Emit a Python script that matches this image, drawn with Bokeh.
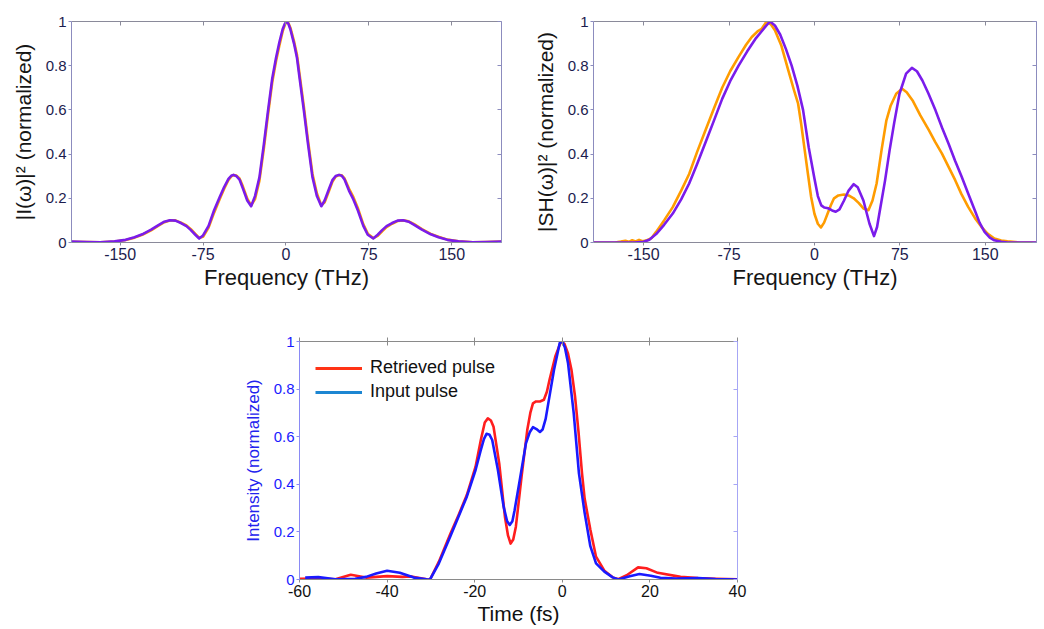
from bokeh.plotting import figure
from bokeh.models import (LinearAxis, FixedTicker, Range1d, Legend, LegendItem, Spacer,
                          CustomLabelingPolicy)
from bokeh.layouts import column, row
from bokeh.embed import file_html
from bokeh.resources import INLINE

# ---------------- data ----------------
freq_ticks = [-150, -75, 0, 75, 150]
freq_tick_labels = ["-150", "-75", "0", "75", "150"]
int_ticks = [0, 0.2, 0.4, 0.6, 0.8, 1]
int_tick_labels = ["0", "0.2", "0.4", "0.6", "0.8", "1"]
time_ticks = [-60, -40, -20, 0, 20, 40]
time_tick_labels = ["-60", "-40", "-20", "0", "20", "40"]

# top-left: spectrum |I(w)|^2
spec_freq = [-194, -180, -168, -155, -145, -137, -130, -122, -115, -110, -105, -100, -95, -90, -86, -82,
             -78.5, -75, -70, -65, -60, -56, -52, -49.5, -47.5, -45, -42, -39, -35, -31.5, -28, -24,
             -20, -16.3, -12.4, -9, -6, -3, -1, 0.6, 2.2, 4, 7.3, 10, 12.4, 16.3, 20, 24,
             28, 32, 35, 39, 42, 45, 48, 50.5, 53, 57, 61, 65, 70, 74, 79, 83,
             87, 91, 96, 101, 106, 111, 116, 123, 131, 138, 146, 156, 169, 181, 195]
spec_purple = [0.004, 0.002, 0.001, 0.005, 0.012, 0.024, 0.037, 0.058, 0.080, 0.094, 0.101, 0.099, 0.088, 0.074, 0.056, 0.035,
               0.018, 0.032, 0.075, 0.146, 0.205, 0.250, 0.288, 0.302, 0.306, 0.301, 0.285, 0.245, 0.190, 0.164, 0.210, 0.295,
               0.444, 0.593, 0.742, 0.835, 0.905, 0.965, 0.990, 1.000, 0.990, 0.965, 0.900, 0.835, 0.742, 0.593, 0.444, 0.295,
               0.210, 0.164, 0.190, 0.243, 0.282, 0.301, 0.306, 0.302, 0.285, 0.235, 0.195, 0.146, 0.075, 0.035, 0.018, 0.035,
               0.056, 0.074, 0.088, 0.099, 0.101, 0.094, 0.080, 0.058, 0.037, 0.024, 0.012, 0.005, 0.001, 0.002, 0.004]
spec_orange = [0.003, 0.002, 0.001, 0.004, 0.011, 0.022, 0.035, 0.055, 0.077, 0.092, 0.100, 0.100, 0.090, 0.077, 0.060, 0.039,
               0.021, 0.026, 0.068, 0.135, 0.196, 0.242, 0.283, 0.299, 0.305, 0.303, 0.290, 0.254, 0.198, 0.168, 0.196, 0.280,
               0.425, 0.575, 0.725, 0.820, 0.890, 0.955, 0.985, 0.998, 0.993, 0.972, 0.910, 0.848, 0.758, 0.610, 0.460, 0.310,
               0.222, 0.168, 0.182, 0.234, 0.275, 0.298, 0.305, 0.304, 0.290, 0.244, 0.205, 0.156, 0.082, 0.040, 0.020, 0.030,
               0.051, 0.070, 0.085, 0.097, 0.100, 0.096, 0.083, 0.061, 0.039, 0.026, 0.013, 0.006, 0.001, 0.002, 0.004]

# top-right: SH spectrum |SH(w)|^2
sh_freq_purple = [-194, -170, -158, -150, -145, -139, -132, -124.4, -117, -110, -103, -95.5, -88, -81, -74, -66.6,
                  -59, -52, -46.3, -42.5, -39, -34.7, -30, -25, -20, -15, -10, -5, 0, 3, 6, 8.6,
                  12, 15.5, 18.7, 22, 26, 30, 34.5, 38, 43, 48.3, 52.3, 55, 57.5, 62, 66, 70,
                  74.7, 80.5, 85.6, 90, 94.8, 100, 106.3, 112, 117.8, 123.5, 129.3, 135, 140.8, 145, 149.4, 154,
                  158, 164, 169.5, 180, 195]
sh_purple = [0.0, 0.0, 0.0, 0.003, 0.012, 0.038, 0.080, 0.131, 0.195, 0.267, 0.355, 0.455, 0.555, 0.650, 0.730, 0.800,
             0.865, 0.920, 0.956, 0.980, 1.000, 0.982, 0.940, 0.875, 0.800, 0.710, 0.600, 0.430, 0.290, 0.210, 0.168, 0.158,
             0.155, 0.145, 0.139, 0.150, 0.190, 0.235, 0.264, 0.250, 0.190, 0.086, 0.029, 0.070, 0.146, 0.280, 0.417, 0.540,
             0.673, 0.764, 0.790, 0.775, 0.733, 0.675, 0.598, 0.520, 0.447, 0.370, 0.297, 0.222, 0.146, 0.090, 0.048, 0.022,
             0.010, 0.003, 0.0, 0.0, 0.0]
sh_freq_orange = [-194, -175, -170, -166, -163, -160, -157, -154, -151, -147, -143, -139, -132, -124.4, -117, -110,
                  -103, -95.5, -88, -81, -74, -66.6, -60, -55, -50, -46.3, -42, -38, -34.7, -29, -23, -18,
                  -14.4, -11.6, -8.6, -5.7, -2.9, 0, 3, 5.7, 8.5, 11.5, 14.5, 17.2, 21, 25.9, 30, 34.5,
                  39, 43, 47.4, 51, 54.6, 59, 63.2, 67, 71.8, 77, 81, 86.2, 93, 100.6, 106, 112,
                  118, 123.6, 129, 135, 141, 146.6, 152, 158, 164, 169.5, 180, 195]
sh_orange = [0.0, 0.0, 0.004, 0.008, 0.003, 0.010, 0.005, 0.012, 0.006, 0.010, 0.020, 0.048, 0.100, 0.160, 0.235, 0.310,
             0.410, 0.510, 0.610, 0.700, 0.775, 0.840, 0.895, 0.930, 0.955, 0.967, 1.000, 0.985, 0.960, 0.890, 0.780, 0.690,
             0.630, 0.535, 0.420, 0.310, 0.206, 0.130, 0.085, 0.068, 0.090, 0.130, 0.170, 0.200, 0.213, 0.217, 0.213, 0.200,
             0.178, 0.154, 0.146, 0.190, 0.267, 0.420, 0.553, 0.620, 0.673, 0.696, 0.680, 0.643, 0.575, 0.507, 0.455, 0.402,
             0.340, 0.282, 0.220, 0.161, 0.110, 0.071, 0.040, 0.018, 0.009, 0.005, 0.0, 0.0]

# bottom: temporal intensity
time_input = [-58.7, -55.7, -51.8, -47.3, -44.8, -42.5, -40, -37.1, -33.9, -31, -30.2, -28.2, -25.6, -23.7, -21.8, -19.8,
              -18.6, -17.9, -17.3, -16.6, -16, -14.7, -13.4, -12.6, -12, -11.4, -10.9, -9.6, -8.3, -7.4, -6.7, -5.9,
              -5.1, -4.5, -3.8, -3.2, -1.9, -0.6, 0, 0.6, 1.3, 2.6, 3.8, 5.1, 6.4, 7.7, 9.6, 11.5,
              12.8, 15.4, 17.6, 20.2, 22.4, 26, 31, 35, 40]
int_input = [0.008, 0.010, 0.001, 0.003, 0.011, 0.025, 0.037, 0.028, 0.008, 0.001, 0.0, 0.067, 0.180, 0.264, 0.348, 0.460,
             0.544, 0.590, 0.612, 0.608, 0.586, 0.460, 0.306, 0.245, 0.229, 0.245, 0.290, 0.430, 0.572, 0.620, 0.640, 0.632,
             0.620, 0.630, 0.675, 0.740, 0.880, 0.993, 1.000, 0.975, 0.910, 0.700, 0.446, 0.280, 0.140, 0.068, 0.033, 0.009,
             0.0, 0.014, 0.023, 0.016, 0.007, 0.004, 0.006, 0.002, 0.0]
time_retr = [-60, -55.7, -51.8, -48.3, -44.8, -40, -36.5, -34.5, -31, -30.2, -28.2, -25.6, -23.7, -21.8, -19.8, -18.6,
             -17.7, -17, -16.3, -15.7, -14.4, -13.1, -12.4, -11.8, -11.2, -10.6, -9.3, -8, -7.3, -6.7, -6, -5.1,
             -4.2, -3.5, -2.9, -1.6, -0.3, 0.5, 1.3, 2.1, 2.9, 3.7, 4.5, 5.1, 6.4, 7.7, 9.6, 11.5,
             12.8, 14.7, 17.3, 19.2, 21.8, 27, 31, 35, 40]
int_retr = [0.003, 0.004, 0.001, 0.020, 0.008, 0.014, 0.011, 0.013, 0.001, 0.0, 0.074, 0.190, 0.270, 0.355, 0.474, 0.586,
            0.660, 0.677, 0.668, 0.642, 0.488, 0.264, 0.185, 0.151, 0.168, 0.222, 0.432, 0.628, 0.700, 0.740, 0.748, 0.748,
            0.755, 0.790, 0.840, 0.937, 1.000, 0.990, 0.950, 0.880, 0.770, 0.620, 0.446, 0.340, 0.210, 0.096, 0.037, 0.009,
            0.001, 0.018, 0.051, 0.047, 0.028, 0.011, 0.006, 0.003, 0.001]

legend_labels = ["Retrieved pulse", "Input pulse"]

assert len(spec_freq) == len(spec_purple) == len(spec_orange)
assert len(sh_freq_purple) == len(sh_purple)
assert len(sh_freq_orange) == len(sh_orange)
assert len(time_input) == len(int_input)
assert len(time_retr) == len(int_retr)

# ---------------- styling helpers ----------------
FONT = "Liberation Sans"
ORANGE = "#FF9C00"
PURPLE = "#7A1CEB"
RED = "#FF1E1E"
BLUE = "#1A1AFF"

HIDE_ALL = CustomLabelingPolicy(
    code="const n = indices.size; for (let i = 0; i < n; i++) { indices.unset(i) } return indices")


def make_fig(width, height, x_rng, borders):
    l, r, t, b = borders
    p = figure(width=width, height=height, x_range=Range1d(*x_rng), y_range=Range1d(0, 1),
               output_backend="svg", toolbar_location=None,
               min_border_left=l, min_border_right=r, min_border_top=t, min_border_bottom=b)
    p.xgrid.visible = False
    p.ygrid.visible = False
    p.outline_line_color = None
    p.background_fill_color = "white"
    p.border_fill_color = "white"
    return p


def box_axis(ticks, color):
    return LinearAxis(ticker=FixedTicker(ticks=ticks), major_label_text_font_size="1px",
                      major_label_policy=HIDE_ALL, major_label_standoff=0,
                      major_tick_in=4, major_tick_out=0, minor_tick_line_color=None,
                      axis_line_color=color, major_tick_line_color=color)


def style_axes(p, xticks, xlabels, yticks, ylabels, xlabel, ylabel,
               lr_color, tb_color, xtick_color, ytick_color, xlabel_color, ylabel_color,
               xtick_size, ytick_size, xlabel_size, ylabel_size, right_color=None):
    xa = p.xaxis[0]
    ya = p.yaxis[0]
    xa.ticker = FixedTicker(ticks=xticks)
    xa.major_label_overrides = dict(zip(xticks, xlabels))
    ya.ticker = FixedTicker(ticks=yticks)
    ya.major_label_overrides = dict(zip(yticks, ylabels))
    for ax, col, tcol, tsize in ((xa, tb_color, xtick_color, xtick_size), (ya, lr_color, ytick_color, ytick_size)):
        ax.axis_line_color = col
        ax.axis_line_width = 1
        ax.major_tick_line_color = col
        ax.major_tick_in = 0
        ax.major_tick_out = 3
        ax.minor_tick_line_color = None
        ax.major_label_text_font = FONT
        ax.major_label_text_font_size = tsize
        ax.major_label_text_color = tcol
        ax.major_label_standoff = 2
        ax.axis_label_text_font = FONT
        ax.axis_label_text_font_style = "normal"
    xa.axis_label = xlabel
    xa.axis_label_text_font_size = xlabel_size
    xa.axis_label_text_color = xlabel_color
    xa.axis_label_standoff = 2
    ya.axis_label = ylabel
    ya.axis_label_text_font_size = ylabel_size
    ya.axis_label_text_color = ylabel_color
    ya.axis_label_standoff = 8

    p.add_layout(box_axis(xticks, tb_color), "above")
    p.add_layout(box_axis(yticks, right_color or lr_color), "right")


# ---------------- top-left ----------------
p1 = make_fig(521, 331, (-194, 195), (71, 20, 18, 89))
style_axes(p1, freq_ticks, freq_tick_labels, int_ticks, int_tick_labels,
           "Frequency (THz)", "|I(ω)|² (normalized)",
           "#8C8CBE", "#8A8A9A", "#1C1C4E", "#1C1C4E", "#151515", "#151515",
           "16px", "15px", "22px", "21px")
p1.line(spec_freq, spec_orange, line_color=ORANGE, line_width=2.6, line_join="round")
p1.line(spec_freq, spec_purple, line_color=PURPLE, line_width=2.6, line_join="round")

# ---------------- top-right ----------------
p2 = make_fig(519, 331, (-194, 195), (72, 3, 21, 89))
style_axes(p2, freq_ticks, freq_tick_labels, int_ticks, int_tick_labels,
           "Frequency (THz)", "|SH(ω)|² (normalized)",
           "#8C8CBE", "#8A8A9A", "#1C1C4E", "#1C1C4E", "#151515", "#151515",
           "16px", "15px", "22px", "21px")
p2.line(sh_freq_orange, sh_orange, line_color=ORANGE, line_width=2.6, line_join="round")
p2.line(sh_freq_purple, sh_purple, line_color=PURPLE, line_width=2.6, line_join="round")

# ---------------- bottom ----------------
p3 = make_fig(511, 296, (-60, 40), (58, 14, 10, 48))
style_axes(p3, time_ticks, time_tick_labels, int_ticks, int_tick_labels,
           "Time (fs)", "Intensity (normalized)",
           "#8A8AF5", "#8A8A8A", "#111111", "#1A1AFF", "#111111", "#2222EE",
           "16px", "15px", "21px", "17px", right_color="#A6A6F5")
p3.xaxis[0].major_tick_out = 4
p3.xaxis[0].axis_label_standoff = 4
p3.line(time_retr, int_retr, line_color=RED, line_width=2.6, line_join="round")
p3.line(time_input, int_input, line_color=BLUE, line_width=2.6, line_join="round")

nan = float("nan")
leg_r = p3.line([nan], [nan], line_color="#FF3316", line_width=3)
leg_b = p3.line([nan], [nan], line_color="#1C86D2", line_width=3)
legend = Legend(items=[LegendItem(label=legend_labels[0], renderers=[leg_r]),
                       LegendItem(label=legend_labels[1], renderers=[leg_b])],
                location="top_left", margin=10, padding=6, spacing=3,
                glyph_width=47, glyph_height=20, label_standoff=8,
                label_text_font=FONT, label_text_font_size="18px", label_text_color="#111111",
                background_fill_alpha=0, border_line_alpha=0)
p3.add_layout(legend)

layout = column(row(p1, p2), row(Spacer(width=240, height=10), p3))

open("out.html", "w").write(file_html(layout, INLINE))
